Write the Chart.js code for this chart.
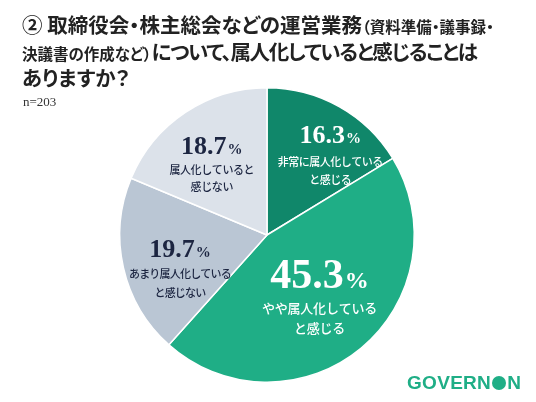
<!DOCTYPE html>
<html><head><meta charset="utf-8">
<script src="https://cdn.jsdelivr.net/npm/chart.js@4/dist/chart.umd.min.js"></script>
<style>
html,body{margin:0;padding:0;background:#fff;}
#wrap{position:relative;width:536px;height:402px;overflow:hidden;background:#fff;}
#c{position:absolute;left:0;top:0;}
.t{position:absolute;left:22px;height:26px;font-family:"Noto Sans CJK JP","Noto Sans",sans-serif;font-weight:700;color:#222;font-size:20.5px;line-height:26px;font-feature-settings:"palt";white-space:nowrap;}
.t .s{font-size:15.5px;line-height:1;}
.t .c{letter-spacing:-1.4px;}
#n{position:absolute;left:23px;top:94px;font-family:"Liberation Serif","DejaVu Serif",serif;font-size:13px;color:#333;}
#logo{position:absolute;left:407px;top:372px;font-family:"Liberation Sans","Arial",sans-serif;font-weight:700;font-size:19px;color:#1fae86;letter-spacing:0.3px;}
#logo .o{display:inline-block;width:14px;height:14px;border-radius:50%;background:#1fae86;color:transparent;overflow:hidden;line-height:14px;vertical-align:-1px;margin:0 1px;font-size:10px;text-align:center;}
</style></head>
<body><div id="wrap">
<canvas id="c" width="536" height="402"></canvas>
<div class="t" style="top:11px">② 取締役会・株主総会などの運営業務<span class="s">（資料準備・議事録・</span></div>
<div class="t" style="top:38px"><span class="s">決議書の作成など）</span><span class="c">について、属人化していると感じることは</span></div>
<div class="t" style="top:64px">ありますか？</div>
<div id="n">n=203</div>
<div id="logo">GOVERN<span class="o">O</span>N</div>
</div>
<script>
const categories = ['非常に属人化していると感じる','やや属人化していると感じる','あまり属人化していると感じない','属人化していると感じない'];
const labelLines = [['非常に属人化している','と感じる'],['やや属人化している','と感じる'],['あまり属人化している','と感じない'],['属人化していると','感じない']];
const values = [16.3, 45.3, 19.7, 18.7];
const colors = ['#10876a','#1fae86','#bac6d4','#dce2ea'];
const textColors = ['#ffffff','#ffffff','#1c2541','#1c2541'];

// label layout (style): radius fraction, angle offset (deg), font sizes, spacing
const lblFrac = [0.656, 0.61, 0.646, 0.58];
const lblAng = [11.5, 4, -11, -6.6];
const numSize = [26, 42, 26, 26];
const pctSize = [15, 24, 15, 15];
const subSize = [11, 13, 11, 11];
const subSpacing = ['-0.5px', '-0.2px', '-0.8px', '-0.4px'];
const numOff = [-19, -20, -16, -16];
const lineGap = [18, 20, 19, 17];

const labelPlugin = {
  id: 'sliceLabels',
  afterDatasetsDraw(chart) {
    const ctx = chart.ctx;
    const meta = chart.getDatasetMeta(0);
    meta.data.forEach((arc, i) => {
      const p = arc.getProps(['x','y','startAngle','endAngle','outerRadius'], true);
      const mid = (p.startAngle + p.endAngle) / 2 + lblAng[i] * Math.PI / 180;
      const r = p.outerRadius * lblFrac[i];
      const cx = p.x + Math.cos(mid) * r;
      const cy = p.y + Math.sin(mid) * r;
      ctx.save();
      ctx.fillStyle = textColors[i];
      const num = values[i].toFixed(1);
      const nf = 'bold ' + numSize[i] + 'px "Liberation Serif","DejaVu Serif",serif';
      const pf = 'bold ' + pctSize[i] + 'px "Liberation Serif","DejaVu Serif",serif';
      ctx.font = nf; const wn = ctx.measureText(num).width;
      ctx.font = pf; const wp = ctx.measureText('%').width;
      const sx = cx - (wn + wp + 1) / 2;
      ctx.textBaseline = 'alphabetic';
      ctx.textAlign = 'left';
      ctx.font = nf; ctx.fillText(num, sx, cy + numOff[i]);
      ctx.font = pf; ctx.fillText('%', sx + wn + 1, cy + numOff[i]);
      ctx.textAlign = 'center';
      ctx.textBaseline = 'middle';
      ctx.font = '500 ' + subSize[i] + 'px "Noto Sans CJK JP","Noto Sans",sans-serif';
      if ('letterSpacing' in ctx) ctx.letterSpacing = subSpacing[i];
      labelLines[i].forEach((t, k) => ctx.fillText(t, cx, cy + k * lineGap[i]));
      ctx.restore();
    });
  }
};

new Chart(document.getElementById('c'), {
  type: 'pie',
  data: { labels: categories, datasets: [{ data: values, backgroundColor: colors, borderColor: '#ffffff', borderWidth: 1.5 }] },
  options: {
    responsive: false,
    animation: false,
    layout: { padding: { left: 119, right: 121, top: 87, bottom: 19 } },
    plugins: { legend: { display: false }, tooltip: { enabled: false } }
  },
  plugins: [labelPlugin]
});
</script>
</body></html>
